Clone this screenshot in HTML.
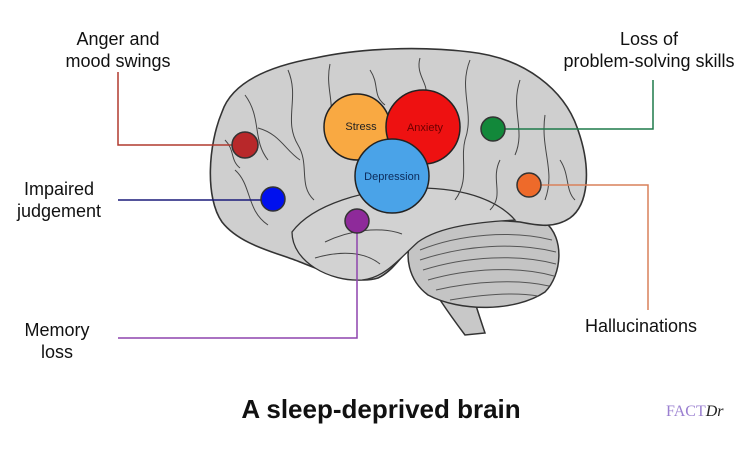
<!DOCTYPE html>
<html><head><style>
body{margin:0;background:#fff;}
svg{display:block;font-family:"Liberation Sans",sans-serif;}
</style></head><body>
<svg width="754" height="454" viewBox="0 0 754 454">
<rect width="754" height="454" fill="#fff"/>
<!-- brainstem -->
<path d="M418,262 C432,290 450,315 465,335 L485,333 C478,312 470,290 466,262 Z" fill="#c8c8c8" stroke="#333" stroke-width="1.5"/>
<!-- cerebellum -->
<path d="M412,238 C430,215 505,210 545,222 C565,238 562,275 545,292 C515,312 460,312 428,295 C408,280 404,255 412,238 Z" fill="#c4c4c4" stroke="#333" stroke-width="1.5"/>
<g stroke="#555" stroke-width="1" fill="none">
<path d="M420,250 C460,234 512,230 552,240"/><path d="M420,260 C465,245 515,242 556,252"/>
<path d="M423,270 C468,256 518,254 556,264"/><path d="M428,280 C470,268 518,266 554,276"/>
<path d="M436,290 C475,281 518,279 549,286"/><path d="M450,300 C485,294 515,292 538,296"/>
</g>
<!-- cerebrum -->
<path d="M222,112 C232,82 270,66 315,58 C360,48 420,46 470,52 C525,58 565,90 578,130 C592,170 588,205 570,218 C555,228 540,226 520,222 C480,218 440,222 420,238 C405,250 395,270 378,278 C355,285 325,272 300,262 C275,252 240,245 222,222 C205,198 208,145 222,112 Z" fill="#cfcfcf" stroke="#333" stroke-width="1.6"/>
<!-- temporal lobe -->
<path d="M292,232 C312,205 365,188 418,188 C470,188 500,203 515,220 C480,222 440,226 418,242 C400,258 385,278 362,280 C330,282 292,262 292,232 Z" fill="#d2d2d2" stroke="#333" stroke-width="1.3"/>
<g stroke="#444" stroke-width="1" fill="none">
<path d="M245,95 C262,118 252,140 268,160"/><path d="M288,70 C300,98 283,120 298,145 C310,165 298,185 314,200"/>
<path d="M235,170 C252,185 246,210 268,225"/><path d="M330,64 C324,92 340,110 324,130"/>
<path d="M470,60 C458,90 475,112 465,140 C460,160 470,180 455,200"/><path d="M520,80 C510,110 526,130 515,155"/>
<path d="M545,115 C540,150 556,170 545,200"/><path d="M500,160 C490,180 505,195 490,210"/>
<path d="M325,242 C350,230 380,226 402,234"/><path d="M315,258 C342,250 365,252 380,264"/>
<path d="M258,128 C280,134 285,150 300,160"/><path d="M560,160 C570,175 565,190 575,200"/>
<path d="M370,70 C380,85 372,95 385,105"/><path d="M420,58 C415,75 430,85 425,95"/>
<path d="M225,140 C235,150 230,160 240,168"/>
</g>
<!-- connectors -->
<g fill="none" stroke-width="1.5">
<polyline points="232,145 118,145 118,72" stroke="#b03a2e"/>
<polyline points="261,200 118,200" stroke="#1a1a7a"/>
<polyline points="357,233 357,338 118,338" stroke="#8e44ad"/>
<polyline points="505,129 653,129 653,80" stroke="#1e7a4a"/>
<polyline points="541,185 648,185 648,310" stroke="#d9805a"/>
</g>
<!-- big circles -->
<circle cx="357" cy="127" r="33" fill="#f9a942" stroke="#222" stroke-width="1.5"/>
<circle cx="423" cy="127" r="37" fill="#ee1111" stroke="#222" stroke-width="1.5"/>
<circle cx="392" cy="176" r="37" fill="#4aa3e8" stroke="#222" stroke-width="1.5"/>
<text x="361" y="130" font-size="11" text-anchor="middle" fill="#222">Stress</text>
<text x="425" y="131" font-size="11" text-anchor="middle" fill="#6b0000">Anxiety</text>
<text x="392" y="180" font-size="11" text-anchor="middle" fill="#0b2a5a">Depression</text>
<!-- small circles -->
<circle cx="245" cy="145" r="13" fill="#b8282a" stroke="#333" stroke-width="1.5"/>
<circle cx="273" cy="199" r="12" fill="#0010ee" stroke="#333" stroke-width="1.5"/>
<circle cx="357" cy="221" r="12" fill="#8e2a9a" stroke="#333" stroke-width="1.5"/>
<circle cx="493" cy="129" r="12" fill="#12883a" stroke="#333" stroke-width="1.5"/>
<circle cx="529" cy="185" r="12" fill="#ee6a2a" stroke="#333" stroke-width="1.5"/>
<!-- labels -->
<g font-size="18" fill="#111" text-anchor="middle">
<text x="118" y="45">Anger and</text><text x="118" y="67">mood swings</text>
<text x="59" y="195">Impaired</text><text x="59" y="217">judgement</text>
<text x="57" y="336">Memory</text><text x="57" y="358">loss</text>
<text x="649" y="45">Loss of</text><text x="649" y="67">problem-solving skills</text>
<text x="641" y="332">Hallucinations</text>
</g>
<text x="381" y="418" font-size="26" font-weight="bold" text-anchor="middle" fill="#111">A sleep-deprived brain</text>
<text x="666" y="416" font-size="16" font-family="Liberation Serif,serif" fill="#9a7fd0">FACT<tspan fill="#222" font-style="italic">Dr</tspan></text>
</svg>
</body></html>
